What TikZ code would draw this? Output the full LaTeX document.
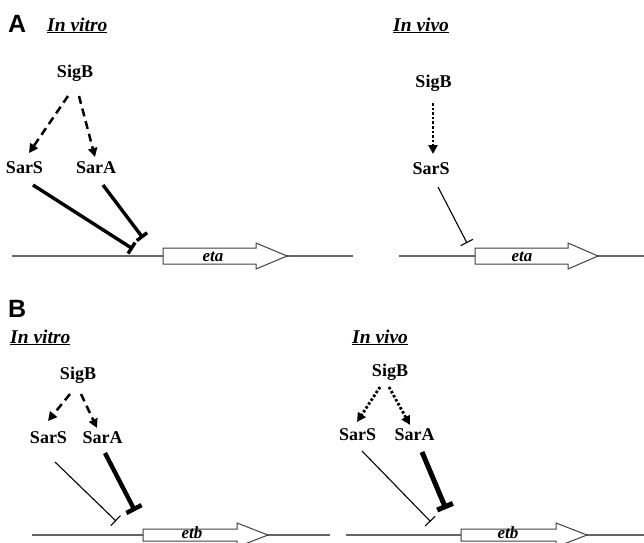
\documentclass[tikz,border=0pt]{standalone}
\usepackage{fontspec}
\setmainfont{Liberation Serif}
\newfontfamily\panelfont{Liberation Sans}
\usetikzlibrary{arrows.meta}
\begin{document}
\begin{tikzpicture}[x=1pt,y=-1pt,
  panel/.style={anchor=base west,inner sep=0pt,font=\panelfont\bfseries\fontsize{25}{28}\selectfont},
  title/.style={anchor=base west,inner sep=0pt,font=\bfseries\itshape\fontsize{19.5}{22}\selectfont},
  prot/.style={anchor=base,inner sep=0pt,font=\bfseries\fontsize{18}{20}\selectfont},
  genelbl/.style={anchor=base,inner sep=0pt,font=\bfseries\itshape\fontsize{17}{19}\selectfont},
  dsh/.style={line width=2.5pt,dash pattern=on 8pt off 5pt,-{Triangle[length=9pt,width=9pt]}},
  dtt/.style={line width=2.8pt,dash pattern=on 2.6pt off 2pt,-{Triangle[length=9pt,width=9pt]}},
  inhthick/.style={line width=3.4pt,-{Bar[width=13pt]}},
  inhthin/.style={line width=1.1pt,-{Bar[width=14pt]}},
  inhbold/.style={line width=4.4pt,-{Bar[width=17pt]}},
  dna/.style={draw=black!60,line width=1.3pt},
  genebox/.style={draw=black!75,fill=white,line width=1pt,line join=miter}
]
\useasboundingbox (0,0) rectangle (644,542);
\clip (0,0) rectangle (644,542);

% ---------- Panel A, in vitro ----------
\node[panel] (lA) at (8,32) {A};
\node[title] (tAv) at (47,31) {\underline{In vitro}};
\node[prot] (aSigB) at (75,77) {SigB};
\node[prot] (aSarS) at (24.5,173) {SarS};
\node[prot] (aSarA) at (96,173) {SarA};
\coordinate (aSigBl) at (68,96);
\coordinate (aSigBr) at (79,96);
\coordinate (aSarSin) at (29,153);
\coordinate (aSarAin) at (95,157);
\coordinate (aSarSo) at (33,185);
\coordinate (aSarAo) at (103,185);
\coordinate (aP1) at (133,249);
\coordinate (aP2) at (143,238);
\draw[dsh] (aSigBl) -- (aSarSin);
\draw[dsh] (aSigBr) -- (aSarAin);
\draw[inhthick] (aSarSo) -- (aP1);
\draw[inhthick] (aSarAo) -- (aP2);
\draw[dna] (12,256) -- (353,256);
\draw[genebox] (163,248) -- (256,248) -- (256,243) -- (287,256) -- (256,269) -- (256,264) -- (163,264) -- cycle;
\node[genelbl] (aeta) at (213,261) {eta};

% ---------- Panel A, in vivo ----------
\node[title] (tAi) at (393,31) {\underline{In vivo}};
\node[prot] (bSigB) at (433.5,87) {SigB};
\node[prot] (bSarS) at (431,174) {SarS};
\coordinate (bSigBo) at (433,103);
\coordinate (bSarSin) at (433,154);
\coordinate (bSarSo) at (438,187);
\coordinate (bP) at (467,243);
\draw[dtt] (bSigBo) -- (bSarSin);
\draw[inhthin] (bSarSo) -- (bP);
\draw[dna] (399,256) -- (644,256);
\draw[genebox] (475,248) -- (568,248) -- (568,243) -- (598,256) -- (568,269) -- (568,264) -- (475,264) -- cycle;
\node[genelbl] (beta) at (522,261) {eta};

% ---------- Panel B, in vitro ----------
\node[panel] (lB) at (8,317) {B};
\node[title] (tBv) at (10,343) {\underline{In vitro}};
\node[prot] (cSigB) at (78,379) {SigB};
\node[prot] (cSarS) at (48.5,443) {SarS};
\node[prot] (cSarA) at (102.5,443) {SarA};
\coordinate (cSigBl) at (70,394);
\coordinate (cSigBr) at (81,394);
\coordinate (cSarSin) at (48,421);
\coordinate (cSarAin) at (97,428);
\coordinate (cSarSo) at (55,462);
\coordinate (cSarAo) at (105,453);
\coordinate (cP1) at (116,521);
\coordinate (cP2) at (135,511);
\draw[dsh] (cSigBl) -- (cSarSin);
\draw[dsh] (cSigBr) -- (cSarAin);
\draw[inhthin] (cSarSo) -- (cP1);
\draw[inhbold] (cSarAo) -- (cP2);
\draw[dna] (32,535) -- (330,535);
\draw[genebox] (143,529) -- (237,529) -- (237,523) -- (268,535) -- (237,547) -- (237,541) -- (143,541) -- cycle;
\node[genelbl] (cetb) at (192,538.5) {etb};

% ---------- Panel B, in vivo ----------
\node[title] (tBi) at (352,343) {\underline{In vivo}};
\node[prot] (dSigB) at (390,376) {SigB};
\node[prot] (dSarS) at (357.5,440) {SarS};
\node[prot] (dSarA) at (414.5,440) {SarA};
\coordinate (dSigBl) at (380,387);
\coordinate (dSigBr) at (389,387);
\coordinate (dSarSin) at (357,422);
\coordinate (dSarAin) at (410,425);
\coordinate (dSarSo) at (362,451);
\coordinate (dSarAo) at (422,452);
\coordinate (dP1) at (430.5,521.5);
\coordinate (dP2) at (446,509);
\draw[dtt] (dSigBl) -- (dSarSin);
\draw[dtt] (dSigBr) -- (dSarAin);
\draw[inhthin] (dSarSo) -- (dP1);
\draw[inhbold,line width=5pt] (dSarAo) -- (dP2);
\draw[dna] (346,535) -- (644,535);
\draw[genebox] (461,529) -- (556,529) -- (556,523) -- (587,535) -- (556,547) -- (556,541) -- (461,541) -- cycle;
\node[genelbl] (detb) at (508,538.5) {etb};
\end{tikzpicture}
\end{document}
